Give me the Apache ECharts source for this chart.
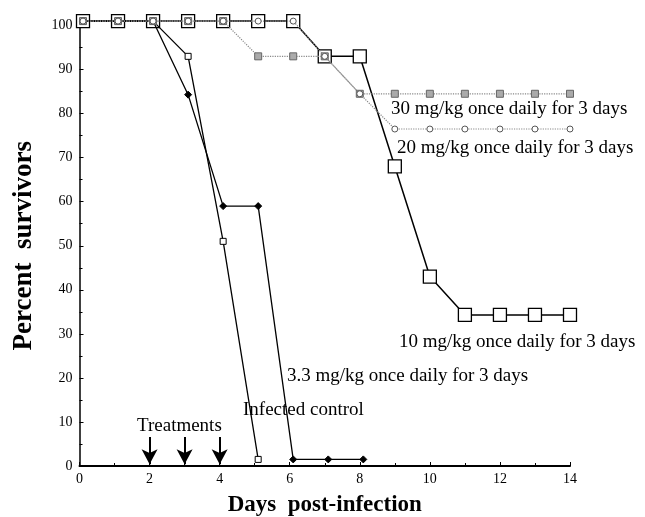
<!DOCTYPE html>
<html>
<head>
<meta charset="utf-8">
<script src="https://cdn.jsdelivr.net/npm/echarts@6/dist/echarts.min.js"></script>
<style>
html, body { margin: 0; padding: 0; background: #fff; }
#chart { width: 645px; height: 517px; }
</style>
</head>
<body>
<div id="chart"></div>
<script>
// survival curves, [day, percent survivors]
const dose10 = [[0.1, 101], [1.1, 101], [2.1, 101], [3.1, 101], [4.1, 101], [5.1, 101], [6.1, 101], [7, 93], [8, 93], [9, 68], [10, 43], [11, 34.3], [12, 34.3], [13, 34.3], [14, 34.3]];
const dose30 = [[0.1, 101], [1.1, 101], [2.1, 101], [3.1, 101], [4.1, 101], [5.1, 93], [6.1, 93], [7, 93], [8, 84.5], [9, 84.5], [10, 84.5], [11, 84.5], [12, 84.5], [13, 84.5], [14, 84.5]];
const dose20 = [[0.1, 101], [1.1, 101], [2.1, 101], [3.1, 101], [4.1, 101], [5.1, 101], [6.1, 101], [7, 93], [8, 84.5], [9, 76.5], [10, 76.5], [11, 76.5], [12, 76.5], [13, 76.5], [14, 76.5]];
const dose33 = [[0.1, 101], [1.1, 101], [2.1, 101], [3.1, 84.3], [4.1, 59], [5.1, 59], [6.1, 1.5], [7.1, 1.5], [8.1, 1.5]];
const control = [[0.1, 101], [1.1, 101], [2.1, 101], [3.1, 93], [4.1, 51], [5.1, 1.5]];
const treatmentDays = [2, 3, 4];

const myChart = echarts.init(document.getElementById("chart"));
const serif = "Liberation Serif";
const noteFont = "19px " + serif;

myChart.setOption({
  animation: false,
  grid: { left: 79.5, right: 75, top: 25.5, bottom: 51, containLabel: false, outerBoundsMode: "none" },
  xAxis: {
    type: "value",
    min: 0, max: 14, interval: 2,
    name: "Days  post-infection",
    nameLocation: "middle",
    nameGap: 28,
    nameTextStyle: { fontFamily: serif, fontWeight: "bold", fontSize: 23, color: "#000" },
    axisLine: { lineStyle: { color: "#000", width: 2 } },
    axisTick: { inside: true, length: 4, lineStyle: { color: "#000" } },
    minorTick: { show: true, splitNumber: 2, length: 3, lineStyle: { color: "#000" } },
    axisLabel: { fontFamily: serif, fontSize: 14, color: "#000", margin: 6 },
    splitLine: { show: false }
  },
  yAxis: {
    type: "value",
    min: 0, max: 100, interval: 10,
    name: "Percent  survivors",
    nameLocation: "middle",
    nameGap: 42,
    nameTextStyle: { fontFamily: serif, fontWeight: "bold", fontSize: 27, color: "#000" },
    axisLine: { show: true, lineStyle: { color: "#000", width: 1.5 } },
    axisTick: { show: true, inside: true, length: 4, lineStyle: { color: "#000" } },
    minorTick: { show: true, splitNumber: 2, length: 3, lineStyle: { color: "#000" } },
    axisLabel: { fontFamily: serif, fontSize: 14, color: "#000", margin: 7 },
    splitLine: { show: false }
  },
  series: [
    {
      name: "10 mg/kg", type: "line", data: dose10, clip: false, z: 2,
      symbol: "rect", symbolSize: 13, showAllSymbol: true,
      lineStyle: { color: "#000", width: 1.5 },
      itemStyle: { color: "#fff", borderColor: "#000", borderWidth: 1.3 }
    },
    {
      name: "Infected control", type: "line", data: control, clip: false, z: 3,
      symbol: "rect", symbolSize: 6,
      lineStyle: { color: "#000", width: 1.3 },
      itemStyle: { color: "#fff", borderColor: "#000", borderWidth: 1 }
    },
    {
      name: "3.3 mg/kg", type: "line", data: dose33, clip: false, z: 3,
      symbol: "diamond", symbolSize: 7,
      lineStyle: { color: "#000", width: 1.3 },
      itemStyle: { color: "#000", borderColor: "#000" },
      markLine: {
        silent: true, symbol: ["none", "arrow"], symbolSize: [12, 15],
        label: { show: false },
        lineStyle: { color: "#000", width: 2, type: "solid" },
        data: treatmentDays.map(d => [{ coord: [d, 6.6] }, { coord: [d, 0.4] }])
      }
    },
    {
      name: "30 mg/kg", type: "line", data: dose30, clip: false, z: 4,
      symbol: "rect", symbolSize: 7,
      lineStyle: { color: "#888", width: 1.2, type: "dotted" },
      itemStyle: { color: "#aaa", borderColor: "#666", borderWidth: 1 }
    },
    {
      name: "20 mg/kg", type: "line", data: dose20, clip: false, z: 5,
      symbol: "circle", symbolSize: 6,
      lineStyle: { color: "#888", width: 1.2, type: "dotted" },
      itemStyle: { color: "#fff", borderColor: "#555", borderWidth: 1 }
    }
  ],
  graphic: [
    { type: "text", left: 391, top: 100, style: { text: "30 mg/kg once daily for 3 days", font: noteFont, fill: "#000" } },
    { type: "text", left: 397, top: 139, style: { text: "20 mg/kg once daily for 3 days", font: noteFont, fill: "#000" } },
    { type: "text", left: 399, top: 333, style: { text: "10 mg/kg once daily for 3 days", font: noteFont, fill: "#000" } },
    { type: "text", left: 287, top: 367, style: { text: "3.3 mg/kg once daily for 3 days", font: noteFont, fill: "#000" } },
    { type: "text", left: 243, top: 401, style: { text: "Infected control", font: noteFont, fill: "#000" } },
    { type: "text", left: 137, top: 417, style: { text: "Treatments", font: noteFont, fill: "#000" } }
  ]
});
</script>
</body>
</html>
